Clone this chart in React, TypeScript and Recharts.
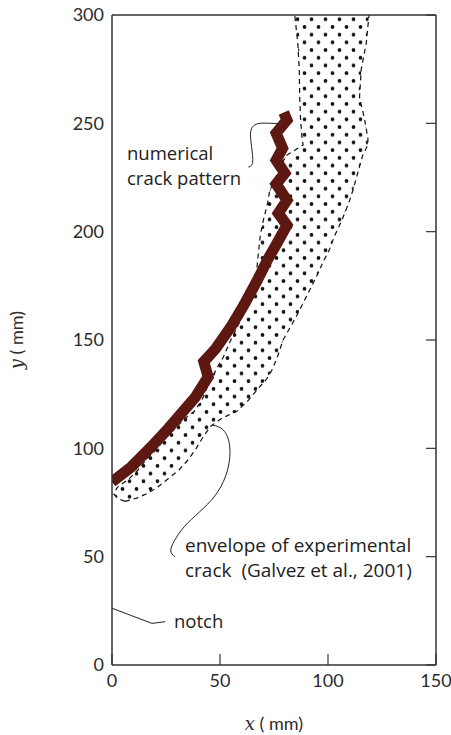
import { ComposedChart, Area, Line, XAxis, YAxis, ReferenceLine } from 'recharts';

// envelope of the experimental crack: left / right boundary x (mm) at each height y (mm)
const envY = [75.5, 77, 79, 82, 86, 90, 95, 100, 105, 110, 114, 117, 122, 128, 132, 136, 142, 150, 161, 172, 181, 186, 192, 198, 205, 213, 219, 230, 235, 240, 243, 252, 262, 275, 287, 300];
const envLeft = [6, 2.5, 0.8, 2.5, 8, 12, 16, 21, 25, 30, 34, 38, 41.5, 44, 46, 48, 51.5, 55, 60.5, 65, 67, 67.3, 68, 68.6, 70, 72, 73, 78, 80.5, 88.5, 88, 87.3, 86.9, 86.7, 86, 84.6];
const envRight = [6, 11.5, 16, 21, 26, 31, 35.5, 39, 42, 45.5, 51, 57.7, 63, 68, 71.6, 74, 76.5, 79.2, 85.4, 91, 95.5, 97.7, 100.8, 103, 106.3, 109.5, 111.5, 114.6, 116, 118.4, 118.5, 116.9, 114.6, 115.4, 117.7, 119];

// numerical crack pattern (centre line)
const crackX = [0, 9, 18, 25, 32, 38.5, 44.5, 42.5, 48, 55, 61, 67, 72, 76, 81, 77, 81, 76, 80, 76, 79, 76, 81, 79.5];
const crackY = [84.5, 91.5, 100.5, 108, 116, 123.5, 133, 140, 146, 156, 166, 177, 187, 194, 203, 208.5, 214.5, 222, 227, 233, 238.5, 245.5, 251.5, 255];

// leader lines of the annotations
const leadNumX = [63.1, 65.1, 64.6, 64.2, 66.2, 70, 77.7];
const leadNumY = [229.8, 231.9, 239.3, 246.2, 249.3, 250.1, 249.8];
const leadEnvX = [46.2, 51.5, 54.5, 53.5, 49, 42.5, 35, 30, 27.2, 29.2];
const leadEnvY = [110.8, 108.5, 101, 90, 80, 72.5, 65.5, 59.2, 53.1, 50];
const leadNotchX = [0, 18.5, 24.6];
const leadNotchY = [26.2, 19.2, 20];

const xTicks = [0, 50, 100, 150];
const yTicks = [0, 50, 100, 150, 200, 250, 300];

const envData = envY.map((y, i) => ({ y, env: [envLeft[i], envRight[i]] }));
const pts = (xs: number[], ys: number[]) => xs.map((x, i) => ({ x, y: ys[i] }));

const FONT = 'Lato, "Open Sans", sans-serif';
const NOTE_FONT = '"Open Sans", Lato, sans-serif';
const AXIS = '#333';

const BottomTick = (props: any) => {
  const { x, y, payload } = props;
  return (
    <g>
      <line x1={x} x2={x} y1={y - 8} y2={y - 19} stroke={AXIS} strokeWidth={1.2} />
      <text x={x} y={y} dy={14} textAnchor="middle" fontSize={18} fill="#2b2b2b" fontFamily={FONT}>
        {payload.value}
      </text>
    </g>
  );
};

const RightTick = (props: any) => {
  const { x, y } = props;
  return <line x1={x} x2={x - 10} y1={y} y2={y} stroke={AXIS} strokeWidth={1.2} />;
};

export default function App() {
  return (
    <div style={{ position: 'absolute', left: 0, top: 0, width: 451, height: 735, background: '#fff' }}>
      <ComposedChart width={451} height={735} layout="vertical" margin={{ top: 15, right: 14, bottom: 0, left: 0 }}>
        <defs>
          <pattern id="dots" patternUnits="userSpaceOnUse" width={14} height={15.4}>
            <circle cx={3.5} cy={3.8} r={1.9} fill="#111" />
            <circle cx={10.5} cy={11.5} r={1.9} fill="#111" />
          </pattern>
        </defs>
        <XAxis
          type="number"
          dataKey="x"
          domain={[0, 150]}
          ticks={xTicks}
          allowDataOverflow
          height={70}
          tickLine={false}
          tickSize={0}
          tickMargin={8}
          tick={<BottomTick />}
          axisLine={{ stroke: AXIS, strokeWidth: 1.5 }}
          label={{
            content: (p: any) => (
              <text x={p.viewBox.x + p.viewBox.width / 2} y={p.viewBox.y + p.viewBox.height - 5} textAnchor="middle" fontSize={18} fill="#2b2b2b" fontFamily={FONT}>
                <tspan fontStyle="italic" fontFamily="'DejaVu Serif', serif">x</tspan> ( mm)
              </text>
            ),
          }}
        />
        <YAxis
          yAxisId="l"
          type="number"
          dataKey="y"
          domain={[0, 300]}
          ticks={yTicks}
          reversed
          allowDataOverflow
          width={112}
          tickLine={false}
          tick={{ fontSize: 18, fill: '#2b2b2b', fontFamily: FONT }}
          axisLine={{ stroke: AXIS, strokeWidth: 1.5 }}
          label={{
            content: (p: any) => (
              <text x={23} y={p.viewBox.y + p.viewBox.height / 2} transform={`rotate(-90, 23, ${p.viewBox.y + p.viewBox.height / 2})`} textAnchor="middle" fontSize={18} fill="#2b2b2b" fontFamily={FONT}>
                <tspan fontStyle="italic" fontFamily="'DejaVu Serif', serif">y</tspan> ( mm)
              </text>
            ),
          }}
        />
        <YAxis
          yAxisId="r"
          orientation="right"
          type="number"
          dataKey="y"
          domain={[0, 300]}
          ticks={yTicks}
          reversed
          allowDataOverflow
          width={1}
          tickLine={false}
          tickSize={0}
          tickMargin={0}
          tick={<RightTick />}
          axisLine={{ stroke: AXIS, strokeWidth: 1.5 }}
        />
        <ReferenceLine yAxisId="l" y={300} stroke={AXIS} strokeWidth={1.5} ifOverflow="visible" />

        <Area
          yAxisId="l"
          data={envData}
          dataKey="env"
          type="linear"
          fill="url(#dots)"
          fillOpacity={1}
          stroke="#111"
          strokeWidth={1.2}
          strokeDasharray="5 4"
          isAnimationActive={false}
        />
        <Line
          yAxisId="l"
          data={pts(crackX, crackY)}
          dataKey="x"
          type="linear"
          stroke="#5e1812"
          strokeWidth={11}
          strokeLinejoin="miter"
          dot={false}
          isAnimationActive={false}
        />
        <Line yAxisId="l" data={pts(leadNumX, leadNumY)} dataKey="x" type="natural" stroke="#222" strokeWidth={1} dot={false} isAnimationActive={false} />
        <Line yAxisId="l" data={pts(leadEnvX, leadEnvY)} dataKey="x" type="natural" stroke="#222" strokeWidth={1} dot={false} isAnimationActive={false} />
        <Line yAxisId="l" data={pts(leadNotchX, leadNotchY)} dataKey="x" type="linear" stroke="#222" strokeWidth={1} dot={false} isAnimationActive={false} />

        <text fontFamily={NOTE_FONT} fontSize={18.5} fill="#222">
          <tspan x={127} y={160}>numerical</tspan>
          <tspan x={127} y={185}>crack pattern</tspan>
        </text>
        <text fontFamily={NOTE_FONT} fontSize={19} fill="#222">
          <tspan x={185} y={552}>envelope of experimental</tspan>
          <tspan x={185} y={577}>{'crack\u00a0\u00a0(Galvez et al., 2001)'}</tspan>
        </text>
        <text x={174} y={628} fontFamily={NOTE_FONT} fontSize={18.5} fill="#222">notch</text>
      </ComposedChart>
    </div>
  );
}
